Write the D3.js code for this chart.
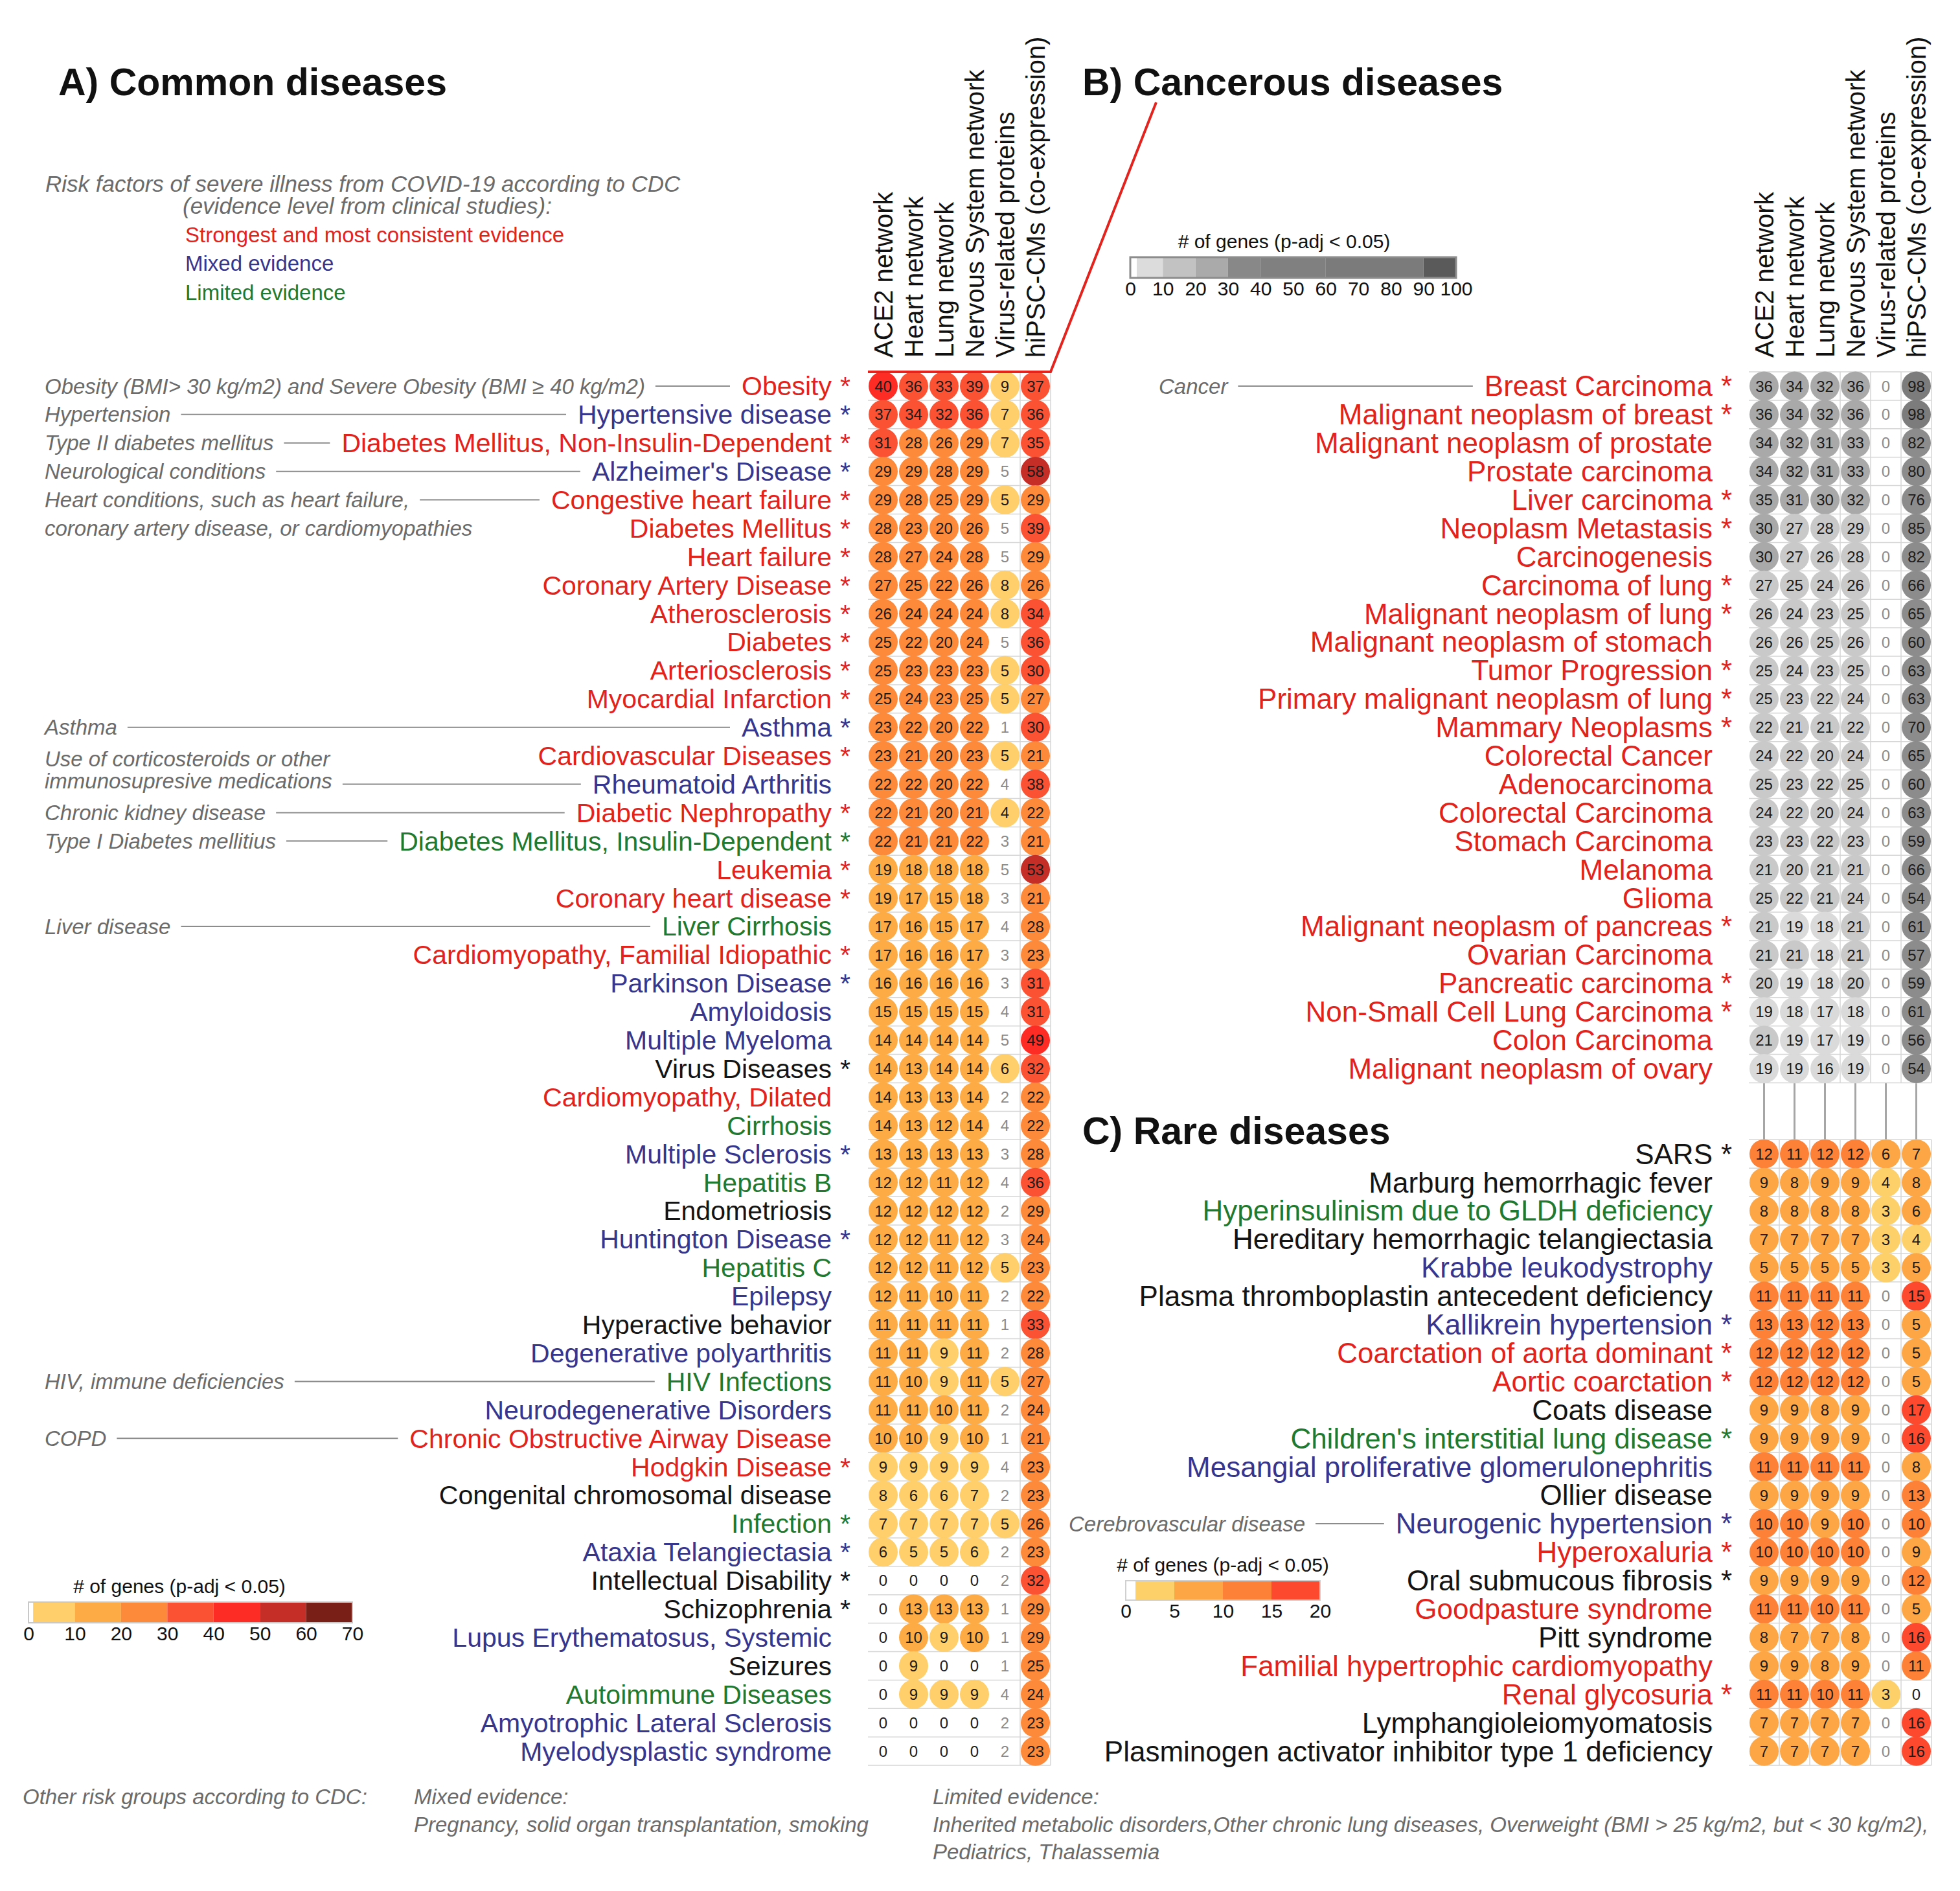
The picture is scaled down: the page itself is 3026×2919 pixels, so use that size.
<!DOCTYPE html>
<html lang="en">
<head>
<meta charset="utf-8">
<title>COVID-19 risk diseases - network enrichment</title>
<script src="https://d3js.org/d3.v7.min.js"></script>
<style>
  body { margin: 0; background: #fff; }
  svg { font-family: "Liberation Sans", Arial, sans-serif; }
  .note { font-style: italic; fill: #6b6b6b; font-size: 33px; }
  .lead { stroke: #8c8c8c; stroke-width: 2; }
  .grid { stroke: #d6d6d6; stroke-width: 1.5; }
  .num { font-size: 24px; text-anchor: middle; }
  .title { font-size: 59px; font-weight: bold; fill: #111; }
  .head { font-size: 40px; fill: #111; }
  .legtitle { font-size: 30px; fill: #111; text-anchor: middle; }
  .legaxis text { font-size: 30px; fill: #111; font-family: "Liberation Sans", Arial, sans-serif; }
</style>
</head>
<body>
<svg width="3026" height="2919"></svg>
<script>
// ---- data ----
var columns = ["ACE2 network", "Heart network", "Lung network", "Nervous System network",
  "Virus-related proteins", "hiPSC-CMs (co-expression)"];

var commonNames = ["Obesity *", "Hypertensive disease *", "Diabetes Mellitus, Non-Insulin-Dependent *",
  "Alzheimer's Disease *", "Congestive heart failure *", "Diabetes Mellitus *", "Heart failure *",
  "Coronary Artery Disease *", "Atherosclerosis *", "Diabetes *", "Arteriosclerosis *",
  "Myocardial Infarction *", "Asthma *", "Cardiovascular Diseases *", "Rheumatoid Arthritis",
  "Diabetic Nephropathy *", "Diabetes Mellitus, Insulin-Dependent *", "Leukemia *",
  "Coronary heart disease *", "Liver Cirrhosis", "Cardiomyopathy, Familial Idiopathic *",
  "Parkinson Disease *", "Amyloidosis", "Multiple Myeloma", "Virus Diseases *",
  "Cardiomyopathy, Dilated", "Cirrhosis", "Multiple Sclerosis *", "Hepatitis B", "Endometriosis",
  "Huntington Disease *", "Hepatitis C", "Epilepsy", "Hyperactive behavior",
  "Degenerative polyarthritis", "HIV Infections", "Neurodegenerative Disorders",
  "Chronic Obstructive Airway Disease", "Hodgkin Disease *", "Congenital chromosomal disease",
  "Infection *", "Ataxia Telangiectasia *", "Intellectual Disability *", "Schizophrenia *",
  "Lupus Erythematosus, Systemic", "Seizures", "Autoimmune Diseases",
  "Amyotrophic Lateral Sclerosis", "Myelodysplastic syndrome"];

// s = strongest, m = mixed, l = limited, o = not a CDC risk factor
var commonEvidence = ["s","m","s","m","s","s","s","s","s","s","s","s","m","s","m","s","l","s","s","l",
  "s","m","m","m","o","s","l","m","l","o","m","l","m","o","m","l","m","s","s","o",
  "l","m","o","o","m","o","l","m","m"];

var commonValues = [
  [40,36,33,39,9,37], [37,34,32,36,7,36], [31,28,26,29,7,35], [29,29,28,29,5,58],
  [29,28,25,29,5,29], [28,23,20,26,5,39], [28,27,24,28,5,29], [27,25,22,26,8,26],
  [26,24,24,24,8,34], [25,22,20,24,5,36], [25,23,23,23,5,30], [25,24,23,25,5,27],
  [23,22,20,22,1,30], [23,21,20,23,5,21], [22,22,20,22,4,38], [22,21,20,21,4,22],
  [22,21,21,22,3,21], [19,18,18,18,5,53], [19,17,15,18,3,21], [17,16,15,17,4,28],
  [17,16,16,17,3,23], [16,16,16,16,3,31], [15,15,15,15,4,31], [14,14,14,14,5,49],
  [14,13,14,14,6,32], [14,13,13,14,2,22], [14,13,12,14,4,22], [13,13,13,13,3,28],
  [12,12,11,12,4,36], [12,12,12,12,2,29], [12,12,11,12,3,24], [12,12,11,12,5,23],
  [12,11,10,11,2,22], [11,11,11,11,1,33], [11,11,9,11,2,28], [11,10,9,11,5,27],
  [11,11,10,11,2,24], [10,10,9,10,1,21], [9,9,9,9,4,23], [8,6,6,7,2,23],
  [7,7,7,7,5,26], [6,5,5,6,2,23], [0,0,0,0,2,32], [0,13,13,13,1,29],
  [0,10,9,10,1,29], [0,9,0,0,1,25], [0,9,9,9,4,24], [0,0,0,0,2,23], [0,0,0,0,2,23]];

// virus-related proteins column: 1 = significant (drawn as a dot)
var commonVirusSig = [1,1,1,0,1,0,0,1,1,0,1,1,0,1,0,1,0,0,0,0,0,0,0,0,1,0,0,0,0,0,
  0,1,0,0,0,1,0,0,0,0,1,0,0,0,0,0,0,0,0];

var commonNotes = [
  { row: 0, text: "Obesity (BMI> 30 kg/m2) and Severe Obesity (BMI \u2265 40 kg/m2)", lead: true },
  { row: 1, text: "Hypertension", lead: true },
  { row: 2, text: "Type II diabetes mellitus", lead: true },
  { row: 3, text: "Neurological conditions", lead: true },
  { row: 4, text: "Heart conditions, such as heart failure,", lead: true },
  { row: 5, text: "coronary artery disease, or cardiomyopathies", lead: false },
  { row: 12, text: "Asthma", lead: true },
  { row: 13, shift: 0.12, text: "Use of corticosteroids or other", lead: false },
  { row: 14, shift: -0.12, text: "immunosupresive medications", lead: true },
  { row: 15, text: "Chronic kidney disease", lead: true },
  { row: 16, text: "Type I Diabetes mellitius", lead: true },
  { row: 19, text: "Liver disease", lead: true },
  { row: 35, text: "HIV, immune deficiencies", lead: true },
  { row: 37, text: "COPD", lead: true }];

var cancerNames = ["Breast Carcinoma *", "Malignant neoplasm of breast *",
  "Malignant neoplasm of prostate", "Prostate carcinoma", "Liver carcinoma *",
  "Neoplasm Metastasis *", "Carcinogenesis", "Carcinoma of lung *", "Malignant neoplasm of lung *",
  "Malignant neoplasm of stomach", "Tumor Progression *", "Primary malignant neoplasm of lung *",
  "Mammary Neoplasms *", "Colorectal Cancer", "Adenocarcinoma", "Colorectal Carcinoma",
  "Stomach Carcinoma", "Melanoma", "Glioma", "Malignant neoplasm of pancreas *",
  "Ovarian Carcinoma", "Pancreatic carcinoma *", "Non-Small Cell Lung Carcinoma *",
  "Colon Carcinoma", "Malignant neoplasm of ovary"];

var cancerValues = [
  [36,34,32,36,0,98], [36,34,32,36,0,98], [34,32,31,33,0,82], [34,32,31,33,0,80],
  [35,31,30,32,0,76], [30,27,28,29,0,85], [30,27,26,28,0,82], [27,25,24,26,0,66],
  [26,24,23,25,0,65], [26,26,25,26,0,60], [25,24,23,25,0,63], [25,23,22,24,0,63],
  [22,21,21,22,0,70], [24,22,20,24,0,65], [25,23,22,25,0,60], [24,22,20,24,0,63],
  [23,23,22,23,0,59], [21,20,21,21,0,66], [25,22,21,24,0,54], [21,19,18,21,0,61],
  [21,21,18,21,0,57], [20,19,18,20,0,59], [19,18,17,18,0,61], [21,19,17,19,0,56],
  [19,19,16,19,0,54]];

var rareNames = ["SARS *", "Marburg hemorrhagic fever", "Hyperinsulinism due to GLDH deficiency",
  "Hereditary hemorrhagic telangiectasia", "Krabbe leukodystrophy",
  "Plasma thromboplastin antecedent deficiency", "Kallikrein hypertension *",
  "Coarctation of aorta dominant *", "Aortic coarctation *", "Coats disease",
  "Children's interstitial lung disease *", "Mesangial proliferative glomerulonephritis",
  "Ollier disease", "Neurogenic hypertension *", "Hyperoxaluria *", "Oral submucous fibrosis *",
  "Goodpasture syndrome", "Pitt syndrome", "Familial hypertrophic cardiomyopathy",
  "Renal glycosuria *", "Lymphangioleiomyomatosis",
  "Plasminogen activator inhibitor type 1 deficiency"];

var rareEvidence = ["o","o","l","o","m","o","m","s","s","o","l","m","o","m","s","o","s","o","s","s","o","o"];

var rareValues = [
  [12,11,12,12,6,7], [9,8,9,9,4,8], [8,8,8,8,3,6], [7,7,7,7,3,4], [5,5,5,5,3,5],
  [11,11,11,11,0,15], [13,13,12,13,0,5], [12,12,12,12,0,5], [12,12,12,12,0,5],
  [9,9,8,9,0,17], [9,9,9,9,0,16], [11,11,11,11,0,8], [9,9,9,9,0,13], [10,10,9,10,0,10],
  [10,10,10,10,0,9], [9,9,9,9,0,12], [11,11,10,11,0,5], [8,7,7,8,0,16], [9,9,8,9,0,11],
  [11,11,10,11,3,0], [7,7,7,7,0,16], [7,7,7,7,0,16]];

var rareVirusSig = [1,1,1,1,1,0,0,0,0,0,0,0,0,0,0,0,0,0,0,1,0,0];

var ticksCommon = [0, 10, 20, 30, 40, 50, 60, 70];
var ticksCancer = [0, 10, 20, 30, 40, 50, 60, 70, 80, 90, 100];
var ticksRare = [0, 5, 10, 15, 20];

// ---- scales ----
var svg = d3.select("svg");
var rowStep = 43.9, tableTop = 574;

var evidenceColor = { s: "#e2231c", m: "#36368e", l: "#1f7a30", o: "#141414" };

var colorCommon = d3.scaleThreshold().domain([1, 10, 20, 30, 40, 50, 60])
  .range(["#ffffff", "#fecf6a", "#fdab45", "#fd8a3a", "#fc5234", "#fd2c25", "#c52d27", "#7a1e18"]);
var colorRare = d3.scaleThreshold().domain([1, 5, 10, 15])
  .range(["#ffffff", "#fed06a", "#fda645", "#fd8237", "#fd4a2f"]);
var greyDots = d3.scaleThreshold().domain([10, 20, 30, 40, 90])
  .range(["#e6e6e6", "#dadada", "#c9c9c9", "#a9a9a9", "#8c8c8c", "#7c7c7c"]);
var greyLegend = d3.scaleThreshold().domain([2, 10, 20, 30, 40, 60, 90])
  .range(["#ffffff", "#dcdcdc", "#c2c2c2", "#aaaaaa", "#888888", "#808080", "#7b7b7b", "#5a5a5a"]);

var xA = d3.scaleBand().domain(columns).range([1340, 1622]);
var xB = d3.scaleBand().domain(columns).range([2700, 2982]);
var yA = d3.scaleBand().domain(d3.range(commonNames.length))
  .range([tableTop, tableTop + commonNames.length * rowStep]);
var yB = d3.scaleBand().domain(d3.range(cancerNames.length))
  .range([tableTop, tableTop + cancerNames.length * rowStep]);
var yC = d3.scaleBand().domain(d3.range(rareNames.length))
  .range([tableTop + 27 * rowStep, tableTop + (27 + rareNames.length) * rowStep]);

function drawPanel(p) {
  var g = svg.append("g");
  var x = p.x, y = p.y, n = p.names.length;
  var x0 = x.range()[0], x1 = x.range()[1];
  var yTop = y.range()[0], yBot = y.range()[1];
  var mid = function (i) { return y(i) + y.bandwidth() / 2; };

  g.selectAll("line.h").data(d3.range(n + 1)).enter().append("line")
    .attr("class", "grid")
    .attr("x1", x0).attr("x2", x1)
    .attr("y1", function (i) { return yTop + i * y.step(); })
    .attr("y2", function (i) { return yTop + i * y.step(); });

  g.selectAll("line.v").data(p.vlines).enter().append("line")
    .attr("class", "grid")
    .attr("x1", function (k) { return x0 + k * x.bandwidth(); })
    .attr("x2", function (k) { return x0 + k * x.bandwidth(); })
    .attr("y1", yTop).attr("y2", yBot);

  var cells = [];
  p.values.forEach(function (row, r) {
    row.forEach(function (v, c) {
      cells.push({ r: r, c: c, v: v, sig: c === 4 ? p.sig[r] : 1 });
    });
  });

  var cell = g.selectAll("g.cell").data(cells).enter().append("g")
    .attr("transform", function (d) {
      return "translate(" + (x(columns[d.c]) + x.bandwidth() / 2) + "," + mid(d.r) + ")";
    });
  cell.filter(function (d) { return d.v > 0 && d.sig; }).append("circle")
    .attr("r", 22.5)
    .attr("fill", function (d) { return p.color(d.v); });
  cell.append("text").attr("class", "num").attr("dy", "0.36em")
    .attr("fill", function (d) {
      if (d.v > 0 && d.sig) return "#1b1b1b";
      return d.c === 4 ? "#8a8a8a" : "#1b1b1b";
    })
    .text(function (d) { return d.v; });

  var lab = g.selectAll("g.lab").data(p.names).enter().append("g")
    .attr("transform", function (d, i) { return "translate(0," + mid(i) + ")"; });
  lab.append("text").attr("font-size", p.fontSize)
    .attr("x", p.labelRight).attr("dy", "0.35em").attr("text-anchor", "end")
    .attr("fill", function (d, i) { return evidenceColor[p.evidence[i]]; })
    .text(function (d) { return d.replace(/ \*$/, ""); });
  lab.filter(function (d) { return / \*$/.test(d); }).append("text").attr("font-size", p.fontSize)
    .attr("x", p.labelRight + 13).attr("dy", "0.35em")
    .attr("fill", function (d) { return evidenceColor[p.evidence[p.names.indexOf(d)]]; })
    .text("*");

  var labelNodes = lab.select("text").nodes();

  (p.notes || []).forEach(function (nt) {
    var yy = mid(nt.row) + (nt.shift || 0) * y.step();
    var t = g.append("text").attr("class", "note")
      .attr("x", p.noteX).attr("y", yy).attr("dy", "0.35em").text(nt.text);
    if (nt.lead) {
      var start = p.noteX + t.node().getComputedTextLength() + 16;
      var end = p.labelRight - labelNodes[nt.row].getComputedTextLength() - 18;
      g.append("line").attr("class", "lead")
        .attr("x1", start).attr("x2", end)
        .attr("y1", mid(nt.row)).attr("y2", mid(nt.row));
    }
  });
}

function drawHeaders(x) {
  svg.append("g").selectAll("text").data(columns).enter().append("text")
    .attr("class", "head")
    .attr("transform", function (d) {
      return "translate(" + (x(d) + x.bandwidth() / 2) + ",552) rotate(-90)";
    })
    .attr("dy", "0.35em")
    .text(function (d) { return d; });
}

function drawLegend(o) {
  var g = svg.append("g");
  var lx = d3.scaleLinear().domain([0, o.max]).range([o.x0, o.x1]);
  var edges = [0].concat(o.color.domain()).concat([o.max]);
  var segs = d3.pairs(edges);
  g.append("text").attr("class", "legtitle")
    .attr("x", (o.x0 + o.x1) / 2 + o.titleDx).attr("y", o.y - 14)
    .text("# of genes (p-adj < 0.05)");
  g.selectAll("rect.seg").data(segs).enter().append("rect")
    .attr("x", function (d) { return lx(d[0]); })
    .attr("width", function (d) { return lx(d[1]) - lx(d[0]); })
    .attr("y", o.y).attr("height", o.h)
    .attr("fill", function (d) { return o.color(d[0]); });
  g.append("rect").attr("x", o.x0).attr("y", o.y)
    .attr("width", o.x1 - o.x0).attr("height", o.h)
    .attr("fill", "none").attr("stroke", o.border).attr("stroke-width", o.bw);
  g.append("g").attr("class", "legaxis")
    .attr("transform", "translate(0," + (o.y + o.h) + ")")
    .call(d3.axisBottom(lx).tickValues(o.ticks).tickSize(0).tickPadding(6).tickFormat(d3.format("d")))
    .call(function (a) { a.select(".domain").remove(); });
}

// ---- titles ----
svg.append("text").attr("class", "title").attr("x", 90).attr("y", 147).text("A) Common diseases");
svg.append("text").attr("class", "title").attr("x", 1671).attr("y", 147).text("B) Cancerous diseases");
svg.append("text").attr("class", "title").attr("x", 1671).attr("y", 1766).text("C) Rare diseases");

// CDC evidence key
svg.append("text").attr("class", "note").attr("x", 70).attr("y", 296).attr("font-size", 35)
  .style("font-size", "35px")
  .text("Risk factors of severe illness from COVID-19 according to CDC");
svg.append("text").attr("class", "note").attr("x", 282).attr("y", 330)
  .style("font-size", "35px")
  .text("(evidence level from clinical studies):");
[["Strongest and most consistent evidence", "s", 374], ["Mixed evidence", "m", 418],
 ["Limited evidence", "l", 463]].forEach(function (k) {
  svg.append("text").attr("x", 286).attr("y", k[2]).attr("font-size", 33)
    .attr("fill", evidenceColor[k[1]]).text(k[0]);
});

// connectors B -> C
var bBottom = yB.range()[1], cTop = yC(0) + yC.bandwidth() / 2 - 22.5;
svg.append("g").selectAll("line").data(columns).enter().append("line")
  .attr("x1", function (d) { return xB(d) + xB.bandwidth() / 2; })
  .attr("x2", function (d) { return xB(d) + xB.bandwidth() / 2; })
  .attr("y1", bBottom).attr("y2", cTop)
  .attr("stroke", "#a6a6a6").attr("stroke-width", 3);

drawHeaders(xA);
drawHeaders(xB);

drawPanel({ x: xA, y: yA, names: commonNames, evidence: commonEvidence, values: commonValues,
  sig: commonVirusSig, color: colorCommon, labelRight: 1284, vlines: [5, 6], fontSize: 41,
  notes: commonNotes, noteX: 69 });
drawPanel({ x: xB, y: yB, names: cancerNames, evidence: cancerNames.map(function () { return "s"; }),
  values: cancerValues, sig: cancerValues.map(function () { return 0; }), color: greyDots,
  labelRight: 2644, vlines: [3, 4, 5, 6], fontSize: 44,
  notes: [{ row: 0, text: "Cancer", lead: true }], noteX: 1789 });
drawPanel({ x: xB, y: yC, names: rareNames, evidence: rareEvidence, values: rareValues,
  sig: rareVirusSig, color: colorRare, labelRight: 2644, vlines: [1, 2, 3, 4, 5, 6], fontSize: 44,
  notes: [{ row: 13, text: "Cerebrovascular disease", lead: true }], noteX: 1650 });

// red callout from B title to the obesity row
svg.append("path")
  .attr("d", "M" + xA.range()[0] + "," + tableTop + "H" + xA.range()[1] + "L1785,158")
  .attr("fill", "none").attr("stroke", "#e3241e").attr("stroke-width", 4);

// legends
drawLegend({ x0: 44, x1: 544, y: 2473, h: 32, max: 70, color: colorCommon, ticks: ticksCommon,
  border: "#c8c8c8", bw: 2, titleDx: -17 });
drawLegend({ x0: 1745, x1: 2248, y: 397, h: 32, max: 100, color: greyLegend, ticks: ticksCancer,
  border: "#8c8c8c", bw: 3, titleDx: -14 });
drawLegend({ x0: 1738, x1: 2038, y: 2440, h: 30, max: 20, color: colorRare, ticks: ticksRare,
  border: "#d0d0d0", bw: 2, titleDx: 0 });

// footer notes
var foot = [
  [35, 2785, "Other risk groups according to CDC:"],
  [639, 2785, "Mixed evidence:"],
  [639, 2828, "Pregnancy, solid organ transplantation, smoking"],
  [1440, 2785, "Limited evidence:"],
  [1440, 2828, "Inherited metabolic disorders,Other chronic lung diseases, Overweight (BMI > 25 kg/m2, but < 30 kg/m2),"],
  [1440, 2870, "Pediatrics, Thalassemia"]];
svg.append("g").selectAll("text").data(foot).enter().append("text")
  .attr("class", "note").attr("x", function (d) { return d[0]; })
  .attr("y", function (d) { return d[1]; }).text(function (d) { return d[2]; });
</script>
</body>
</html>
